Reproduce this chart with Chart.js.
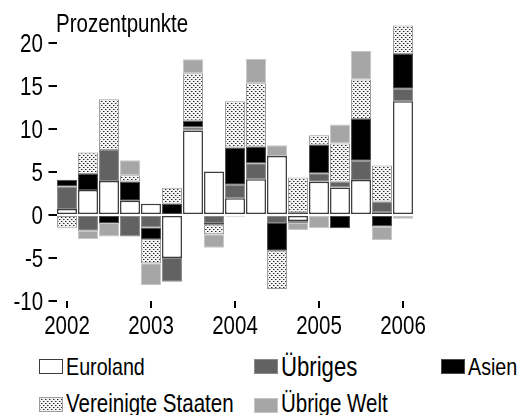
<!DOCTYPE html>
<html>
<head>
<meta charset="utf-8">
<script src="https://cdn.jsdelivr.net/npm/chart.js@4.4.1/dist/chart.umd.min.js"></script>
<style>
  html, body { margin: 0; padding: 0; background: #fff; }
  #wrap { position: relative; width: 520px; height: 415px; background: #fff; overflow: hidden; }
  #c { position: absolute; left: 0; top: 0; }
  .txt { position: absolute; white-space: nowrap; line-height: 1; color: #000;
         font-family: 'Liberation Sans', Arial, sans-serif; }
  .box { position: absolute; box-sizing: border-box; }
</style>
</head>
<body>
<div id="wrap">
  <canvas id="c" width="520" height="345"></canvas>
</div>
<script>
// ---- data ----
const categories = ['2002 Q1','2002 Q2','2002 Q3','2002 Q4',
                    '2003 Q1','2003 Q2','2003 Q3','2003 Q4',
                    '2004 Q1','2004 Q2','2004 Q3','2004 Q4',
                    '2005 Q1','2005 Q2','2005 Q3','2005 Q4',
                    '2006 Q1'];
const euroland     = [0.7, 2.9, 3.95, 1.65, 1.3, -5.0, 9.8, 5.05, 1.95, 4.15, 6.85, -0.7, 3.85, 3.2, 4.05, 0.3, 13.2];
const uebriges     = [2.6, -1.85, 3.6, -2.5, -1.45, -2.75, 0.4, -0.95, 1.55, 1.85, -0.95, -0.25, 1.0, 0.65, 2.25, 1.25, 1.45];
const asien        = [0.8, 1.85, -0.95, 2.25, -1.35, 1.3, 0.75, -0.2, 4.35, 1.95, -3.2, 0.3, 3.3, -1.55, 4.85, -1.35, 4.05];
const usa          = [-1.5, 2.5, 5.9, 0.7, -2.8, 1.85, 5.5, -1.1, 5.35, 7.35, -4.45, 4.05, 1.1, 4.45, 4.6, 4.2, 3.3];
const uebrigeWelt  = [0, -0.95, -1.55, 1.75, -2.55, 0, 1.65, -1.55, -0.2, 2.85, 1.25, -0.8, -1.55, 2.2, 3.3, -1.55, -0.45];
const seriesNames  = ['Euroland', 'Übriges', 'Asien', 'Vereinigte Staaten', 'Übrige Welt'];
const yTickValues  = [-10, -5, 0, 5, 10, 15, 20];
const axisTitle    = 'Prozentpunkte';

// ---- styling ----
const NARROW = 0.82;   // horizontal squeeze to imitate a narrow sans face

// dotted pattern for "Vereinigte Staaten"
const pc = document.createElement('canvas');
pc.width = 4; pc.height = 4;
const px = pc.getContext('2d');
px.fillStyle = '#f4f4f4'; px.fillRect(0, 0, 4, 4);
px.fillStyle = '#2a2a2a'; px.fillRect(1, 1, 1, 1); px.fillRect(3, 3, 1, 1);
px.fillStyle = '#9a9a9a'; px.fillRect(2, 1, 1, 1); px.fillRect(0, 3, 1, 1);
const ctxMain = document.getElementById('c').getContext('2d');
const dotPattern = ctxMain.createPattern(pc, 'repeat');

const styles = [
  { bg: '#ffffff', border: '#3c3c3c', bw: 1.5 },
  { bg: '#626262', border: '#8a8a8a', bw: 1 },
  { bg: '#000000', border: '#4a4a4a', bw: 1 },
  { bg: dotPattern, border: '#9c9c9c', bw: 1 },
  { bg: '#a6a6a6', border: '#c6c6c6', bw: 1 }
];
const seriesData = [euroland, uebriges, asien, usa, uebrigeWelt];

const datasets = seriesData.map((d, i) => ({
  label: seriesNames[i],
  data: d,
  backgroundColor: styles[i].bg,
  borderColor: styles[i].border,
  borderWidth: styles[i].bw,
  borderSkipped: false,
  categoryPercentage: 0.95,
  barPercentage: 1.0
}));

const chart = new Chart(document.getElementById('c'), {
  type: 'bar',
  data: { labels: categories, datasets },
  options: {
    responsive: false,
    devicePixelRatio: 1,
    animation: false,
    layout: { padding: { top: 17, right: 106.5, left: 0, bottom: 0 } },
    plugins: { legend: { display: false }, tooltip: { enabled: false } },
    scales: {
      x: {
        stacked: true,
        border: { display: false },
        grid: {
          offset: false,
          drawOnChartArea: false,
          drawTicks: true,
          tickLength: 7,
          lineWidth: 2,
          color: (ctx) => (ctx.index % 4 === 0 ? '#000' : 'rgba(0,0,0,0)')
        },
        ticks: { display: false, autoSkip: false, maxRotation: 0, minRotation: 0 },
        afterFit: (s) => { s.height = 44; }
      },
      y: {
        stacked: true,
        min: -10,
        max: 23,
        border: { display: false },
        grid: {
          drawOnChartArea: false,
          drawTicks: true,
          tickLength: 8,
          lineWidth: 2,
          color: '#000'
        },
        ticks: { display: false, stepSize: 5 },
        afterBuildTicks: (s) => { s.ticks = yTickValues.map(v => ({ value: v })); },
        afterFit: (s) => { s.width = 56.5; }
      }
    }
  }
});

// ---- all text as real HTML text, placed from the chart's own scales ----
const wrap = document.getElementById('wrap');
function addText(str, size, css) {
  const el = document.createElement('div');
  el.className = 'txt';
  el.textContent = str;
  el.style.fontSize = size + 'px';
  Object.assign(el.style, css);
  wrap.appendChild(el);
  return el;
}
const FS = 25;
const capCenter = FS * (0.8465 - 0.358);   // em-top to digit centre
const capTop = FS * (0.8465 - 0.716);      // em-top to cap top

// y tick labels
const ys = chart.scales.y;
ys.ticks.forEach(t => {
  const py = ys.getPixelForValue(t.value);
  addText(String(t.value), FS, {
    right: (520 - 43) + 'px', top: (py - capCenter) + 'px',
    transform: 'scaleX(' + NARROW + ')', transformOrigin: '100% 50%'
  });
});
// x tick labels (one per year, at the first quarter)
const xs = chart.scales.x;
categories.forEach((c, i) => {
  if (i % 4 !== 0) return;
  const pxl = xs.getPixelForValue(i);
  addText(c.slice(0, 4), FS, {
    left: pxl + 'px', top: (316 - capTop) + 'px',
    transform: 'translateX(-50%) scaleX(' + NARROW + ')', transformOrigin: '50% 50%'
  });
});
// axis title
addText(axisTitle, FS, { left: '56px', top: '11px',
  transform: 'scaleX(' + NARROW + ')', transformOrigin: '0 50%' });

// legend
const legendLayout = [
  { x: 39,  y: 359, size: 24, top: 354.7 },
  { x: 254, y: 359, size: 27, top: 354.1 },
  { x: 441, y: 359, size: 24, top: 354.7 },
  { x: 39,  y: 397, size: 25, top: 390.8 },
  { x: 254, y: 398, size: 25, top: 390.8 }
];
seriesNames.forEach((name, i) => {
  const L = legendLayout[i];
  const b = document.createElement('div');
  b.className = 'box';
  b.style.left = L.x + 'px';
  b.style.top = L.y + 'px';
  b.style.width = '24px';
  b.style.height = '15px';
  if (i === 3) {
    b.style.backgroundImage = 'url(' + pc.toDataURL() + ')';
  } else {
    b.style.background = styles[i].bg;
  }
  b.style.border = (i === 0 ? '1.5px solid #3c3c3c' : '1px solid ' + styles[i].border);
  wrap.appendChild(b);
  addText(name, L.size, { left: (L.x + 27) + 'px', top: L.top + 'px',
    transform: 'scaleX(' + NARROW + ')', transformOrigin: '0 50%' });
});
</script>
</body>
</html>
